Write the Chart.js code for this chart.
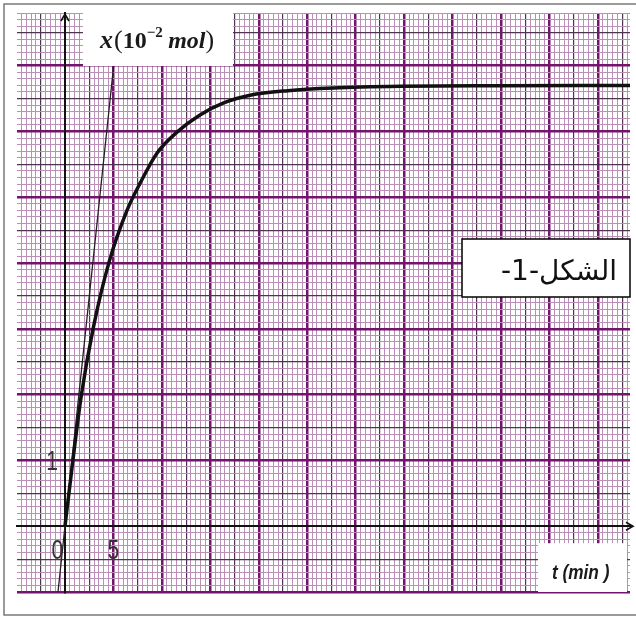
<!DOCTYPE html>
<html>
<head>
<meta charset="utf-8">
<script src="https://cdn.jsdelivr.net/npm/chart.js@4.4.0/dist/chart.umd.min.js"></script>
<style>
    html, body { margin: 0; padding: 0; background: #fff; }
    canvas { display: block; }
</style>
</head>
<body>
<canvas id="paperChart" width="636" height="617"></canvas>
<script>
(function() {
    "use strict";

    // x(t) curve (t in min, x in 10^-2 mol)
    var timeMin = [0, 0.8, 1.7, 2.9, 4.54, 6.4, 7.74, 9.49, 11.56, 13.93, 16.31, 19.1, 23, 27.66, 34.57, 45, 58.3];
    var amountX = [0, 0.98, 2.0, 3.0, 4.01, 4.8, 5.21, 5.67, 5.99, 6.25, 6.43, 6.55, 6.62, 6.66, 6.685, 6.695, 6.70];

    // tangent at the origin
    var tangentTime = [-0.72, 5.6];
    var tangentAmount = [-1.0, 7.8];

    // graduations written on the axes
    var xTickValues = [0, 5];
    var yTickValues = [1];

    var yTitle = "x(10\u22122 mol)";
    var xTitle = "t (min )";
    var figureLabel = "\u0627\u0644\u0634\u0643\u0644-1-";

    function toPoints(xs, ys) {
        var pts = [];
        for (var i = 0; i < xs.length; i++) {
            pts.push({ x: xs[i], y: ys[i] });
        }
        return pts;
    }

    var MAJOR = "#74146c", MEDIUM = "#4e3450", FINE = "#bb8fb8", AXIS = "#111";

    function gridStyle(k, majorEvery, mediumEvery) {
        if (k === 0) return { color: AXIS, width: 2 };
        if (k % majorEvery === 0) return { color: MAJOR, width: 2.5 };
        if (k % mediumEvery === 0) return { color: MEDIUM, width: 1.2 };
        return { color: FINE, width: 1 };
    }
    function xGrid(ctx) {
        return gridStyle(Math.round(ctx.tick.value * 2), 10, 5);
    }
    function yGrid(ctx) {
        return gridStyle(Math.round(ctx.tick.value * 10), 10, 5);
    }

    // narrow text: the source uses a condensed face
    function squashText(ctx, text, x, y, sx) {
        ctx.save();
        ctx.translate(x, y);
        ctx.scale(sx, 1);
        ctx.fillText(text, 0, 0);
        ctx.restore();
    }

    var paperPlugin = {
        id: "paper",
        afterDraw: function(chart) {
            var ctx = chart.ctx,
                ca = chart.chartArea,
                xs = chart.scales.x,
                ys = chart.scales.y;
            var x0 = xs.getPixelForValue(0),
                y0 = ys.getPixelForValue(0);

            ctx.save();

            // outer frame
            ctx.strokeStyle = "#7a7a7a";
            ctx.lineWidth = 1.5;
            ctx.strokeRect(4, 4, chart.width + 10, 611);

            // axis arrows
            ctx.strokeStyle = AXIS;
            ctx.lineWidth = 1.6;
            ctx.beginPath();
            ctx.moveTo(ca.right - 4, y0 - 4);
            ctx.lineTo(ca.right + 3, y0);
            ctx.lineTo(ca.right - 4, y0 + 4);
            ctx.moveTo(ca.right - 2, y0);
            ctx.lineTo(ca.right + 3, y0);
            ctx.moveTo(x0 - 4, ca.top + 8);
            ctx.lineTo(x0, ca.top + 1);
            ctx.lineTo(x0 + 4, ca.top + 8);
            ctx.stroke();

            // graduations
            ctx.fillStyle = "#333";
            ctx.font = '27px "Liberation Sans", sans-serif';
            ctx.textBaseline = "alphabetic";
            ctx.textAlign = "center";
            xTickValues.forEach(function(v) {
                var px = xs.getPixelForValue(v);
                if (v === 0) px -= 7.5;
                squashText(ctx, String(v), px, y0 + 33, 0.78);
            });
            ctx.textAlign = "right";
            yTickValues.forEach(function(v) {
                squashText(ctx, String(v), x0 - 7, ys.getPixelForValue(v) + 9.5, 0.78);
            });

            // y title box
            ctx.fillStyle = "#fff";
            ctx.fillRect(ca.left + 66, ca.top - 2, 150, 55);
            var tx = ca.left + 83, ty = ca.top + 35;
            ctx.fillStyle = "#1a1a1a";
            ctx.textAlign = "left";
            var parts = [
                { t: "x", f: 'italic bold 26px "Liberation Serif", serif', dy: 0 },
                { t: "(", f: '26px "Liberation Serif", serif', dy: 0 },
                { t: "10", f: 'bold 24px "Liberation Serif", serif', dy: 0 },
                { t: "\u22122", f: 'bold 15px "Liberation Serif", serif', dy: -11 },
                { t: " ", f: 'bold 22px "Liberation Serif", serif', dy: 0 },
                { t: "mol", f: 'italic bold 24px "Liberation Serif", serif', dy: 0 },
                { t: ")", f: '26px "Liberation Serif", serif', dy: 0 }
            ];
            parts.forEach(function(p) {
                ctx.font = p.f;
                ctx.fillText(p.t, tx, ty + p.dy);
                tx += ctx.measureText(p.t).width + (p.t === "x" ? 1 : 0);
            });

            // x title box
            ctx.fillStyle = "#fff";
            ctx.fillRect(ca.left + 521, y0 + 17, 89, ca.bottom - y0 - 17);
            ctx.fillStyle = "#1a1a1a";
            ctx.font = 'italic bold 21px "Liberation Sans", sans-serif';
            squashText(ctx, xTitle, ca.left + 535, y0 + 53, 0.82);

            // figure label box
            ctx.fillStyle = "#fff";
            ctx.fillRect(462, 239, 168, 58);
            ctx.strokeStyle = "#000";
            ctx.lineWidth = 1.5;
            ctx.strokeRect(462, 239, 168, 58);
            ctx.fillStyle = "#111";
            ctx.font = '28px "DejaVu Sans", sans-serif';
            ctx.direction = "rtl";
            ctx.textAlign = "center";
            ctx.fillText(figureLabel, 559, 280);

            ctx.restore();
        }
    };

    var chart = new Chart(document.getElementById("paperChart"), {
        type: "scatter",
        data: {
            datasets: [
                {
                    label: yTitle,
                    data: toPoints(timeMin, amountX),
                    showLine: true,
                    borderColor: "#111",
                    borderWidth: 3.5,
                    pointRadius: 0,
                    cubicInterpolationMode: "monotone"
                },
                {
                    label: "tangent",
                    data: toPoints(tangentTime, tangentAmount),
                    showLine: true,
                    borderColor: "#222",
                    borderWidth: 1.3,
                    pointRadius: 0
                }
            ]
        },
        options: {
            responsive: false,
            animation: false,
            devicePixelRatio: 1,
            layout: {
                padding: { left: 17, top: 13, right: 6, bottom: 25 }
            },
            plugins: {
                legend: { display: false },
                tooltip: { enabled: false }
            },
            scales: {
                x: {
                    type: "linear",
                    min: -4.95,
                    max: 58.3,
                    position: { y: 0 },
                    grid: {
                        drawTicks: false,
                        color: function(c) { return xGrid(c).color; },
                        lineWidth: function(c) { return xGrid(c).width; }
                    },
                    border: { display: true, color: AXIS, width: 2 },
                    ticks: {
                        display: false,
                        stepSize: 0.5,
                        autoSkip: false,
                        includeBounds: false,
                        maxTicksLimit: 1000
                    }
                },
                y: {
                    type: "linear",
                    min: -1,
                    max: 7.8,
                    position: { x: 0 },
                    grid: {
                        drawTicks: false,
                        color: function(c) { return yGrid(c).color; },
                        lineWidth: function(c) { return yGrid(c).width; }
                    },
                    border: { display: true, color: AXIS, width: 2 },
                    ticks: {
                        display: false,
                        stepSize: 0.1,
                        autoSkip: false,
                        includeBounds: false,
                        maxTicksLimit: 1000
                    }
                }
            }
        },
        plugins: [paperPlugin]
    });
})();
</script>
</body>
</html>
